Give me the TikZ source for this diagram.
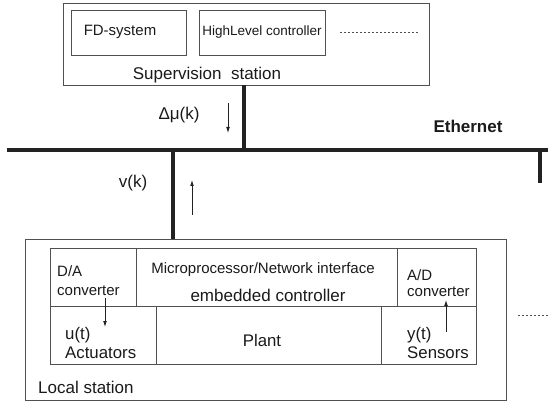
\documentclass[tikz,border=0pt]{standalone}
\usepackage{fontspec}
\setmainfont{Liberation Sans}
\usetikzlibrary{arrows.meta}
\definecolor{boxgray}{HTML}{505050}
\definecolor{busblack}{HTML}{222222}
\definecolor{txt}{HTML}{1A1A1A}
\tikzset{
  box/.style={draw=boxgray, line width=0.9pt, inner sep=0pt, anchor=north west},
  bus/.style={draw=busblack, line width=4pt},
  sig/.style={draw=busblack, line width=0.8pt, -{Latex[length=6pt,width=3.8pt]}},
  lbl/.style={inner sep=0pt, text=txt, font=\fontsize{17}{20}\selectfont},
  mlbl/.style={inner sep=0pt, text=txt, font=\fontsize{15}{18}\selectfont},
  slbl/.style={inner sep=0pt, text=txt, font=\fontsize{16.8}{19}\selectfont},
  dots/.style={draw=boxgray, line width=0.8pt, dash pattern=on 1.5pt off 2.5pt},
}
\begin{document}
\begin{tikzpicture}[x=1pt,y=-1pt]
\useasboundingbox (0,0) rectangle (548,403);
% Supervision station
\node[box, minimum width=366pt, minimum height=82pt] (sup) at (63,3) {};
\node[box, minimum width=115pt, minimum height=45pt] (fd) at (71,10) {};
\node[box, minimum width=126pt, minimum height=45pt] (hl) at (199,10) {};
\node[mlbl] (fdt) at (120,32) {FD-system};
\node[inner sep=0pt, text=txt, font=\fontsize{13.5}{16}\selectfont] (hlt) at (262,32) {HighLevel controller};
\coordinate (d1) at (340,32); \coordinate (d2) at (419,32);
\draw[dots] (d1) -- (d2);
\node[lbl] (supt) at (207,75) {Supervision\ \ station};
% Ethernet
\coordinate (e1) at (7,150); \coordinate (e2) at (548,150);
\coordinate (s1) at (244,85); \coordinate (s2) at (244,150);
\coordinate (r1) at (540,150); \coordinate (r2) at (540,183);
\coordinate (l1) at (173,150); \coordinate (l2) at (173,239);
\draw[bus] (s1) -- (s2);
\draw[bus] (l1) -- (l2);
\draw[bus] (r1) -- (r2);
\draw[bus] (e1) -- (e2);
\node[inner sep=0pt, text=txt, font=\fontsize{17}{20}\selectfont\bfseries] (eth) at (468,126) {Ethernet};
\node[lbl] (mu) at (179,115) {Δμ(k)};
\coordinate (a1) at (228,103); \coordinate (a2) at (228,133);
\draw[sig] (a1) -- (a2);
\node[lbl] (vk) at (133,183) {v(k)};
\coordinate (b1) at (192,215); \coordinate (b2) at (192,180);
\draw[sig] (b1) -- (b2);
% Local station
\node[box, minimum width=481pt, minimum height=161pt] (loc) at (25,239) {};
\node[box, minimum width=86pt, minimum height=58pt] (da) at (50,248) {};
\node[box, minimum width=261pt, minimum height=58pt] (mp) at (136,248) {};
\node[box, minimum width=79pt, minimum height=58pt] (ad) at (397,248) {};
\node[box, minimum width=106pt, minimum height=58pt] (act) at (50,306) {};
\node[box, minimum width=225pt, minimum height=58pt] (pl) at (156,306) {};
\node[box, minimum width=95pt, minimum height=58pt] (sen) at (381,306) {};
\node[mlbl, anchor=west] (dat1) at (57,271) {D/A};
\node[mlbl, anchor=west] (dat2) at (57,291) {converter};
\node[mlbl] (mpt1) at (263,270) {Microprocessor/Network interface};
\node[lbl] (mpt2) at (268,295) {embedded controller};
\node[mlbl, anchor=west] (adt1) at (407,275) {A/D};
\node[mlbl, anchor=west] (adt2) at (407,292) {converter};
\node[slbl, anchor=west] (u) at (65,335) {u(t)};
\node[slbl, anchor=west] (actt) at (65,353) {Actuators};
\node[slbl] (plt) at (262,340) {Plant};
\node[slbl, anchor=west] (y) at (407,335) {y(t)};
\node[slbl, anchor=west] (sent) at (407,353) {Sensors};
\node[lbl, anchor=west] (loct) at (38,387) {Local station};
\coordinate (c1) at (105,298); \coordinate (c2) at (105,327);
\draw[sig] (c1) -- (c2);
\coordinate (g1) at (446,332); \coordinate (g2) at (446,300);
\draw[sig] (g1) -- (g2);
\coordinate (f1) at (518,315); \coordinate (f2) at (548,315);
\draw[dots] (f1) -- (f2);
\end{tikzpicture}
\end{document}
